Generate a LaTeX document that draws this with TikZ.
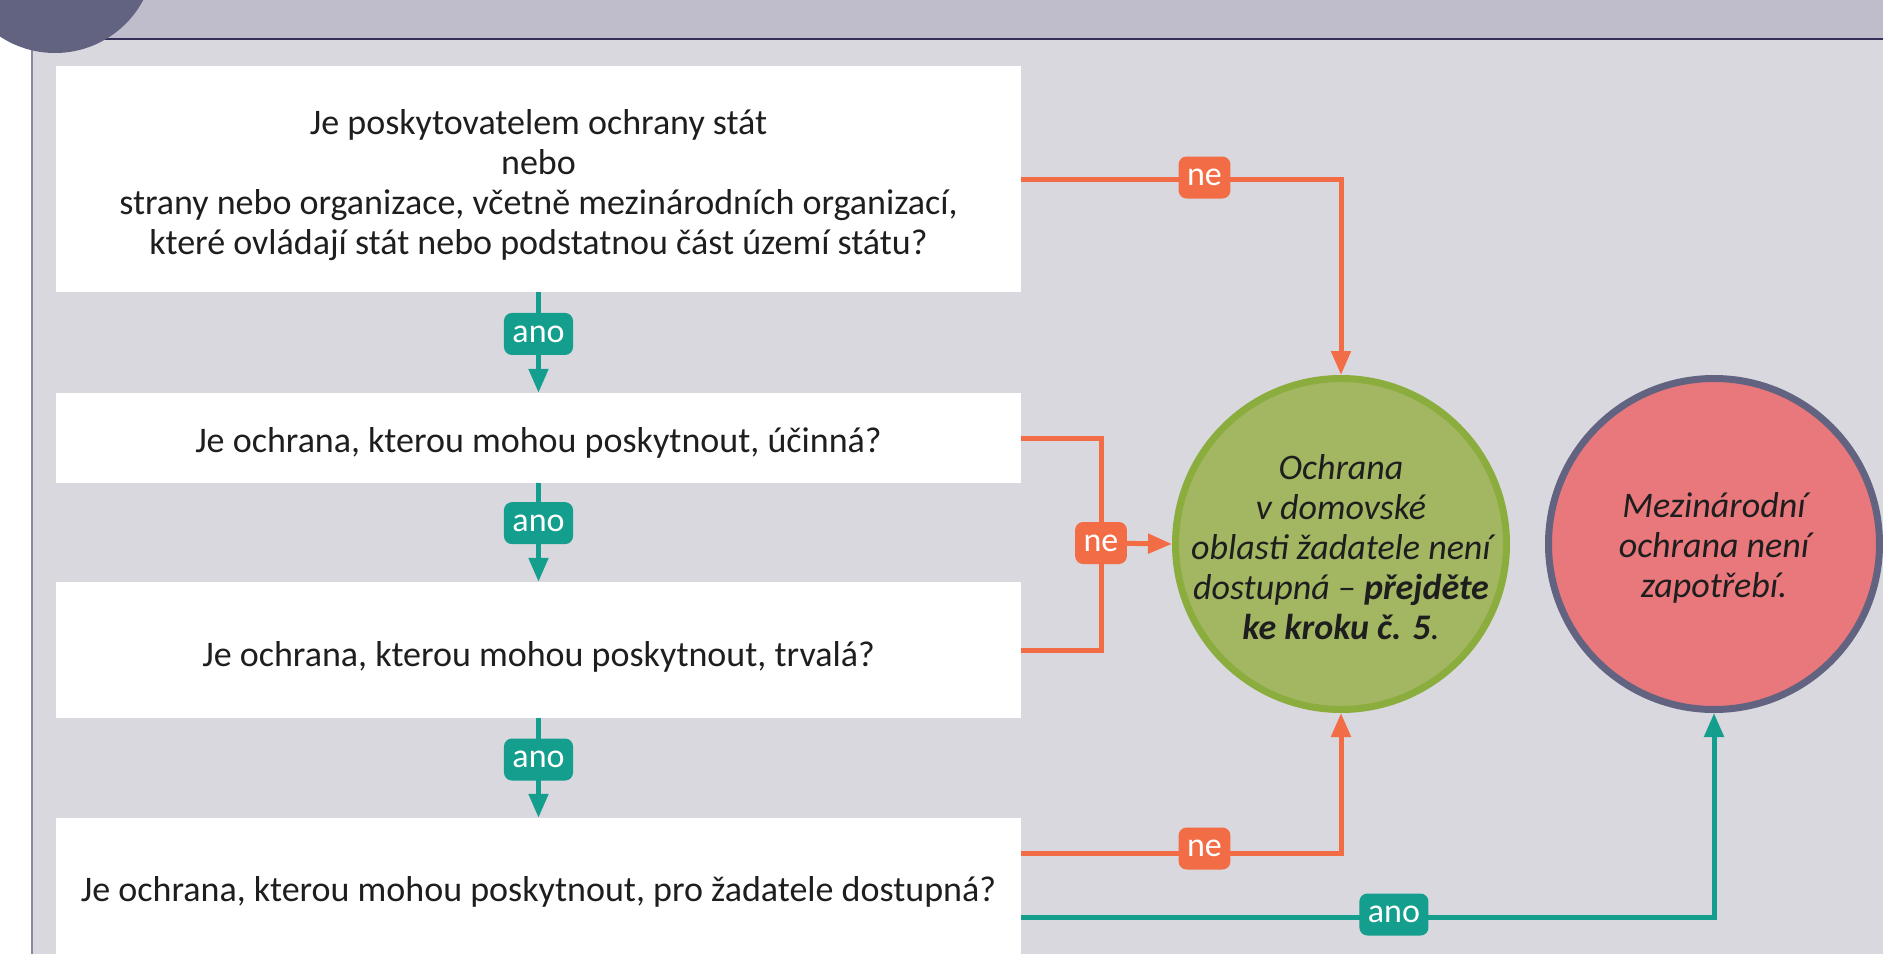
\documentclass[tikz,border=0pt]{standalone}
\usepackage{fontspec}
\setmainfont{Carlito}
\usetikzlibrary{arrows.meta}
\definecolor{bodybg}{HTML}{D9D8DF}
\definecolor{headbg}{HTML}{BFBCCB}
\definecolor{headline}{HTML}{35305A}
\definecolor{leftline}{HTML}{8A87A0}
\definecolor{darkc}{HTML}{626381}
\definecolor{orng}{HTML}{F26C45}
\definecolor{tealc}{HTML}{139E8D}
\definecolor{greenf}{HTML}{A3B662}
\definecolor{greenb}{HTML}{8AAD3E}
\definecolor{pinkf}{HTML}{E8787C}
\definecolor{txt}{HTML}{1E1E1E}
\tikzset{
  qbox/.style={fill=white, draw=none, inner sep=0pt, minimum width=965pt},
  qtext/.style={inner sep=0pt, text=txt, align=center, font=\fontsize{36}{40}\selectfont},
  endc/.style={circle, line width=7pt, minimum size=331pt, inner sep=0pt},
  ctext/.style={inner sep=0pt, align=center, text=txt, font=\fontsize{36}{40}\selectfont\itshape},
  lab/.style={rounded corners=8pt, inner xsep=8.5pt, inner ysep=0pt,
    minimum height=42pt, text=white, font=\fontsize{34}{34}\selectfont},
  nelab/.style={lab, fill=orng},
  anolab/.style={lab, fill=tealc},
  tip/.style={-{Triangle[length=24pt,width=19pt]}},
  neline/.style={draw=orng, line width=5pt},
  anoline/.style={draw=tealc, line width=5pt},
}
\begin{document}
\begin{tikzpicture}[x=1pt,y=-1pt]
\useasboundingbox (0,0) rectangle (1883,954);
% background
\fill[headbg] (32,0) rectangle (1883,39);
\fill[bodybg] (32,39) rectangle (1883,954);
\draw[headline, line width=1.5pt] (32,39) -- (1883,39);
\draw[leftline, line width=1.5pt] (32,39) -- (32,954);
\fill[darkc] (55,-47) circle (100pt);
% question boxes
\node[qbox, minimum height=226pt,
  label={[qtext, name=q1t, yshift=-6pt]center:{Je poskytovatelem ochrany stát\\nebo\\strany nebo organizace, včetně mezinárodních organizací,\\které ovládají stát nebo podstatnou část území státu?}}]
  (q1) at (538.5,179) {};
\node[qbox, minimum height=90pt,
  label={[qtext, name=q2t, yshift=-5pt]center:{Je ochrana, kterou mohou poskytnout, účinná?}}]
  (q2) at (538.5,438) {};
\node[qbox, minimum height=136pt,
  label={[qtext, name=q3t, yshift=-7pt]center:{Je ochrana, kterou mohou poskytnout, trvalá?}}]
  (q3) at (538.5,650) {};
\node[qbox, minimum height=144pt,
  label={[qtext, name=q4t, yshift=-2pt]center:{Je ochrana, kterou mohou poskytnout, pro žadatele dostupná?}}]
  (q4) at (538.5,890) {};
% outcome circles
\node[endc, draw=greenb, fill=greenf] (c1) at (1341,544) {};
\node[ctext] (c1t) at ([yshift=-3pt]c1.center)
  {Ochrana\\v domovské\\oblasti žadatele není\\dostupná – \textbf{přejděte}\\\textbf{ke kroku č. 5}.};
\node[endc, draw=darkc, fill=pinkf] (c2) at (1714,544) {};
\node[ctext] (c2t) at ([yshift=-4pt]c2.center)
  {Mezinárodní\\ochrana není\\zapotřebí.};
% coordinates
\coordinate (j) at (1101,543);
\coordinate (q4a) at ([yshift=37pt]q4.east);
\coordinate (q4b) at ([yshift=-27pt]q4.east);
% ano arrows
\draw[anoline, tip] (q1.south) -- node[anolab, pos=0.415] (a1) {ano} (q2.north);
\draw[anoline, tip] (q2.south) -- node[anolab, pos=0.405] (a2) {ano} (q3.north);
\draw[anoline, tip] (q3.south) -- node[anolab, pos=0.415] (a3) {ano} (q4.north);
% ne connectors
\draw[neline, tip] (q1.east) -| node[nelab, pos=0.2866, yshift=1.5pt] (n1) {ne} (c1.north);
\draw[neline] (q2.east) -| (j);
\draw[neline] (q3.east) -| (j);
\draw[neline, tip] (j) -- (c1.west);
\node[nelab] (n2) at (j) {ne};
\draw[neline, tip] (q4a) -| node[nelab, pos=0.2866, yshift=4.5pt] (n3) {ne} (c1.south);
\draw[anoline, tip] (q4b) -| node[anolab, pos=0.269, yshift=2.5pt] (a4) {ano} (c2.south);
\end{tikzpicture}
\end{document}
